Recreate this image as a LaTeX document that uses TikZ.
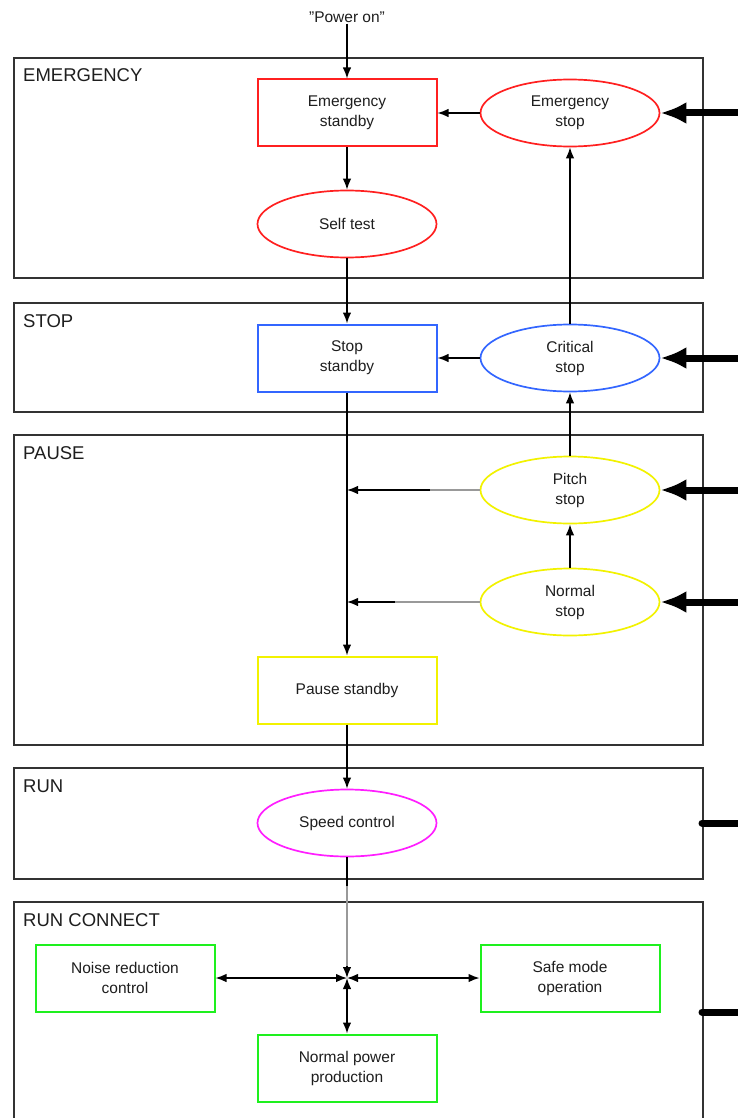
\documentclass[tikz,border=0pt]{standalone}
\usepackage{fontspec}
\setmainfont{Liberation Sans}
\usetikzlibrary{arrows.meta,shapes.geometric}
\definecolor{cred}{HTML}{FF2020}
\definecolor{cblue}{HTML}{3366FF}
\definecolor{cyel}{HTML}{F2F200}
\definecolor{cmag}{HTML}{FF1EFF}
\definecolor{cgreen}{HTML}{1EF01E}
\definecolor{frm}{HTML}{333333}
\definecolor{txt}{HTML}{1E1E1E}
\begin{document}
\begin{tikzpicture}[x=1pt,y=-1pt,
  frame/.style={draw=frm, line width=2pt},
  flabel/.style={anchor=base west, inner sep=0pt, font=\fontsize{18.5}{22}\selectfont, text=txt},
  state/.style={minimum width=179pt, minimum height=67pt, inner sep=0pt, align=center,
     font=\fontsize{15.5}{20}\selectfont, text=txt},
  box/.style={state, rectangle, draw, line width=2pt},
  oval/.style={state, ellipse, draw, line width=1.7pt},
  conn/.style={line width=1.4pt, -{Latex[length=11pt,width=8.5pt]}},
  both/.style={line width=1.4pt, {Latex[length=11pt,width=8.5pt]}-{Latex[length=11pt,width=8.5pt]}},
  bigin/.style={line width=7pt, -{Latex[length=26pt,width=22pt]}},
  bigbar/.style={line width=7pt, line cap=round},
  grayseg/.style={draw=black!40, line width=1.6pt}
]
\clip (0,0) rectangle (738,1118);
\fill[white] (0,0) rectangle (738,1118);

% frames
\draw[frame] (14,58) rectangle (703,278);
\draw[frame] (14,303) rectangle (703,412);
\draw[frame] (14,435) rectangle (703,745);
\draw[frame] (14,768) rectangle (703,879);
\draw[frame] (14,902) rectangle (703,1130);

\node[flabel] (lem) at (23,82) {EMERGENCY};
\node[flabel] (lst) at (23,327) {STOP};
\node[flabel] (lpa) at (23,459) {PAUSE};
\node[flabel] (lru) at (23,792) {RUN};
\node[flabel] (lrc) at (23,926) {RUN CONNECT};

% nodes
\node[font=\fontsize{15.5}{20}\selectfont, text=txt, inner sep=1pt] (power) at (347,17) {"Power on"};
\node[box, draw=cred] (estandby) at (347,113) {Emergency\\standby};
\node[oval, draw=cred] (estop) at (570,113) {Emergency\\stop};
\node[oval, draw=cred] (self) at (347,224) {Self test};
\node[box, draw=cblue] (sstandby) at (347,358) {Stop\\standby};
\node[oval, draw=cblue] (crit) at (570,358) {Critical\\stop};
\node[oval, draw=cyel] (pitch) at (570,490) {Pitch\\stop};
\node[oval, draw=cyel] (nstop) at (570,602) {Normal\\stop};
\node[box, draw=cyel] (pstandby) at (347,690) {Pause standby};
\node[oval, draw=cmag] (speed) at (347,823) {Speed control};
\node[box, draw=cgreen] (noise) at (125,978) {Noise reduction\\control};
\node[box, draw=cgreen] (safe) at (570,978) {Safe mode\\operation};
\node[box, draw=cgreen] (npp) at (347,1068) {Normal power\\production};

% coordinates
\coordinate (pj) at (347,490);
\coordinate (nj) at (347,602);
\coordinate (pg) at (430,490);
\coordinate (ng) at (395,602);
\coordinate (jn) at (347,978);
\coordinate (sg1) at (347,886);
\coordinate (sg2) at (347,966);
\coordinate (in1) at (745,113);
\coordinate (in2) at (745,358);
\coordinate (in3) at (745,490);
\coordinate (in4) at (745,602);
\coordinate (ra) at (702,823);
\coordinate (rb) at (745,823);
\coordinate (rca) at (702,1012);
\coordinate (rcb) at (745,1012);

% connectors
\draw[conn] (power) -- (estandby);
\draw[conn] (estop) -- (estandby);
\draw[conn] (estandby) -- (self);
\draw[conn] (self) -- (sstandby);
\draw[conn] (crit) -- (estop);
\draw[conn] (crit) -- (sstandby);
\draw[conn] (pitch) -- (crit);
\draw[conn] (nstop) -- (pitch);
\draw[conn] (pitch) -- (pj);
\draw[conn] (nstop) -- (nj);
\draw[grayseg] (pitch.west) -- (pg);
\draw[grayseg] (nstop.west) -- (ng);
\draw[conn] (sstandby) -- (pstandby);
\draw[conn] (pstandby) -- (speed);
\draw[conn] (speed) -- (jn);
\draw[grayseg] (sg1) -- (sg2);
\draw[both] (noise) -- (jn);
\draw[both] (jn) -- (safe);
\draw[both] (jn) -- (npp);

% external inputs
\draw[bigin] (in1) -- (estop);
\draw[bigin] (in2) -- (crit);
\draw[bigin] (in3) -- (pitch);
\draw[bigin] (in4) -- (nstop);
\draw[bigbar] (ra) -- (rb);
\draw[bigbar] (rca) -- (rcb);
\end{tikzpicture}
\end{document}
